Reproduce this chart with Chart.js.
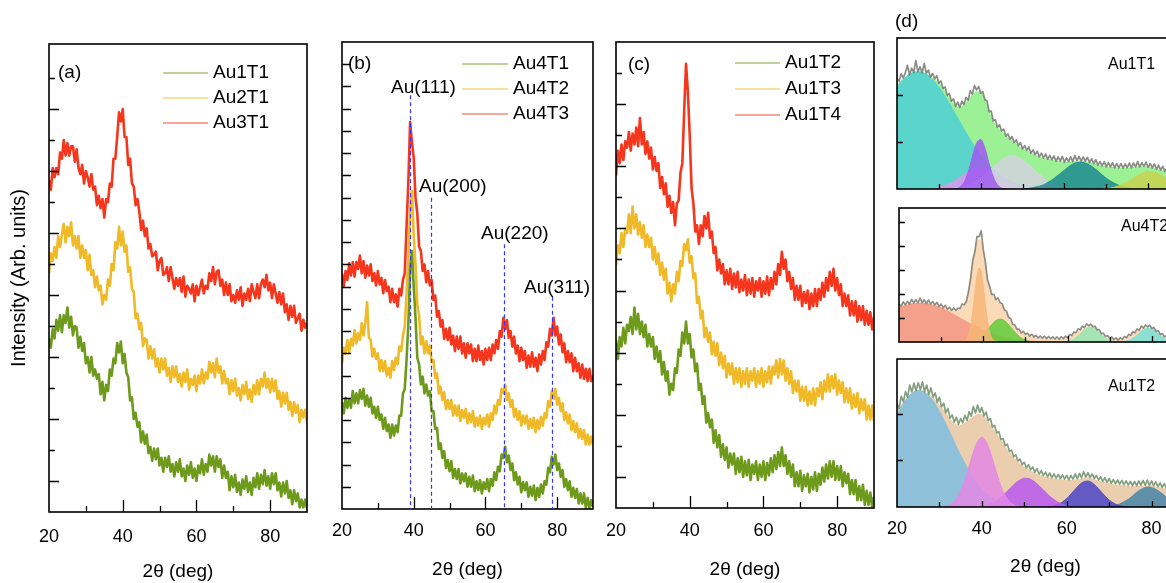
<!DOCTYPE html>
<html lang="en">
<head>
<meta charset="UTF-8">
<meta name="viewport" content="width=device-width, initial-scale=1.0">
<title>XRD patterns - Au samples</title>
<script src="https://cdn.jsdelivr.net/npm/chart.js"></script>
<style>
  html, body { margin: 0; padding: 0; background: #fff; }
  body { position: relative; width: 1166px; height: 583px; overflow: hidden; }
  canvas { position: absolute; }
</style>
</head>
<body>
<canvas id="panelA" width="313" height="583" style="left:0;top:0"></canvas>
<canvas id="panelB" width="284" height="583" style="left:312px;top:0"></canvas>
<canvas id="panelC" width="280" height="583" style="left:598px;top:0"></canvas>
<canvas id="panelD1" width="320" height="195" style="left:880px;top:0"></canvas>
<canvas id="panelD2" width="320" height="153" style="left:880px;top:195px"></canvas>
<canvas id="panelD3" width="320" height="233" style="left:880px;top:350px"></canvas>

<script>
    // ---- scan grid and axis labels ----
    const twoTheta = Array.from({ length: 141 }, (_, i) => 20 + i * 0.5);   // 20..90 deg, 0.5 deg step
    const xTickLabels = [20, 40, 60, 80];
    const peakNames = ['Au(111)', 'Au(200)', 'Au(220)', 'Au(311)'];
    const peakAngles = [39.1, 44.9, 65.2, 78.7];

    // ---- (a) ----
    const au1t1 = [5.6,5.3,5.9,5.6,6.2,5.85,6.35,5.8,6.35,6.1, 6.6,5.95,6.3,5.7,6.0,5.95,5.3,5.65,5.2,5.45,
        4.8,5.0,4.5,5.0,4.4,4.6,4.3,4.45,3.8,4.2, 3.6,4.1,3.9,4.6,4.4,4.95,4.8,5.45,5.15,5.5,
        4.8,5.1,4.5,4.35,3.6,3.7,3.0,3.2,2.75,2.9, 2.25,2.6,2.2,2.5,1.9,2.1,1.65,2.05,1.7,2.05,
        1.5,1.75,1.3,1.75,1.45,1.8,1.3,1.55,1.15,1.6, 1.3,1.7,1.15,1.4,1.0,1.5,1.2,1.6,1.1,1.4,
        1.0,1.5,1.25,1.7,1.2,1.55,1.3,1.85,1.5,1.8, 1.3,1.8,1.45,1.7,1.1,1.5,1.1,1.3,0.7,1.15,
        0.8,1.2,0.65,0.95,0.55,1.05,0.75,1.15,0.65,0.95, 0.55,1.1,0.8,1.25,0.75,1.2,0.9,1.35,0.85,1.15,
        0.75,1.25,0.9,1.25,0.7,0.95,0.5,0.95,0.6,1.0, 0.45,0.7,0.25,0.7,0.35,0.6,0.15,0.4,0.15,0.4, 0.1];
    const au2t1 = [7.7,8.35,8.1,8.55,8.2,8.9,8.55,8.95,9.3,8.7, 9.2,8.9,9.35,8.6,8.9,8.5,8.9,8.2,8.6,8.2,
        8.45,7.8,8.3,7.65,7.8,7.25,7.6,7.15,7.3,6.7, 7.0,6.85,7.5,7.3,8.0,7.8,8.7,8.5,9.2,8.6,
        9.05,8.4,8.6,7.75,7.9,7.2,7.1,6.25,6.4,5.9, 6.1,5.35,5.6,5.55,4.95,5.35,4.95,5.25,4.7,4.95,
        4.5,4.95,4.6,4.95,4.4,4.65,4.2,4.7,4.35,4.7, 4.2,4.45,4.05,4.5,4.2,4.6,3.95,4.3,4.1,4.4,
        3.9,4.4,4.15,4.6,4.15,4.5,4.3,4.85,4.5,4.8, 4.35,4.95,4.5,4.7,4.15,4.55,4.15,4.3,3.8,4.25,
        3.9,4.3,3.75,4.0,3.6,4.1,3.8,4.2,3.65,3.95, 3.55,4.1,3.8,4.25,3.8,4.3,4.05,4.5,4.0,4.3,
        3.85,4.3,3.9,4.25,3.65,3.9,3.4,3.85,3.5,3.85, 3.3,3.55,3.1,3.55,3.2,3.45,2.9,3.3,3.05,3.3, 2.9];
    const au3t1 = [10.7,10.4,11.1,10.8,11.1,10.9,11.6,11.4,12.0,11.5, 11.9,11.5,11.8,11.8,11.3,11.7,11.1,10.9,11.2,10.6,
        11.0,10.8,10.5,10.9,10.4,10.5,9.9,10.2,9.8,10.1, 9.5,10.1,10.0,10.6,10.5,11.4,11.4,12.1,12.9,12.6,
        13.0,12.1,12.1,11.2,11.4,10.6,10.5,9.9,10.1,9.7, 9.1,9.4,8.9,9.15,8.5,8.65,8.25,8.3,8.4,7.8,
        8.1,8.2,7.65,7.7,7.9,7.45,7.9,7.55,7.2,7.55, 7.3,7.55,7.1,7.6,6.95,7.3,7.2,7.05,7.35,6.8,
        7.3,7.0,7.25,7.5,7.05,7.3,7.2,7.7,7.45,7.9, 7.35,7.75,7.8,7.3,7.5,7.0,7.4,7.0,7.35,6.8,
        7.0,6.75,7.15,6.85,7.25,6.65,7.05,6.85,7.2,6.8, 7.35,7.1,6.9,7.35,6.9,7.35,7.5,7.25,7.65,7.15,
        7.4,6.9,7.35,7.05,6.75,7.1,6.7,7.05,6.45,6.7, 6.2,6.65,6.3,6.65,6.1,6.25,6.4,5.85,6.2,5.95, 6.1];

    // ---- (b) ----
    const au4t1 = [4.8,4.3,5.0,4.55,4.9,4.55,5.3,4.75,5.2,4.75, 5.35,4.95,5.4,4.65,5.1,4.6,5.0,4.3,4.6,4.1,
        4.6,4.0,4.25,3.6,4.1,3.5,3.8,3.2,3.8,3.3, 3.75,3.45,4.2,4.2,5.2,5.4,6.7,8.3,10.8,11.6,
        10.0,8.6,6.8,6.5,5.6,5.95,5.2,5.6,5.1,5.3, 4.4,4.4,3.6,3.65,2.7,2.95,2.3,2.6,1.85,2.2,
        1.7,2.15,1.4,1.8,1.35,1.8,1.15,1.6,1.25,1.6, 1.0,1.45,1.0,1.5,0.8,1.25,0.85,1.3,0.7,1.2,
        0.9,1.35,0.8,1.35,1.05,1.65,1.3,1.9,1.7,2.45, 2.3,2.8,2.1,2.4,1.75,2.05,1.3,1.65,1.1,1.45,
        0.75,1.2,0.85,1.2,0.55,1.0,0.6,1.05,0.4,0.95, 0.55,1.1,0.7,1.25,1.1,1.85,1.65,2.35,2.0,2.45,
        1.75,2.05,1.45,1.75,1.0,1.35,0.85,1.25,0.55,0.95, 0.5,0.9,0.25,0.7,0.25,0.7,0.05,0.5,0.05,0.4, 0.1];
    const au4t2 = [6.55,7.25,7.0,7.6,7.05,7.65,7.35,8.05,7.45,7.9, 7.6,8.35,7.8,8.4,9.3,7.7,7.6,6.85,7.2,6.75,
        7.0,6.2,6.7,6.2,6.65,6.0,6.35,5.9,6.65,6.25, 6.8,6.5,7.3,7.1,7.8,8.2,9.7,11.2,13.5,14.3,
        12.3,11.0,9.2,8.7,7.4,7.75,7.0,7.55,7.0,7.35, 6.6,6.7,5.9,6.1,5.2,5.5,4.9,5.25,4.5,4.9,
        4.5,4.9,4.2,4.65,4.2,4.65,3.95,4.45,4.1,4.5, 3.85,4.3,3.9,4.4,3.7,4.1,3.75,4.2,3.6,4.1,
        3.8,4.25,3.7,4.3,4.0,4.65,4.3,4.9,4.7,5.4, 5.2,5.6,4.9,5.2,4.6,4.9,4.15,4.5,4.0,4.4,
        3.75,4.2,3.85,4.2,3.6,4.05,3.65,4.1,3.45,4.0, 3.6,4.15,3.75,4.3,4.1,4.85,4.6,5.3,4.95,5.4,
        4.7,5.0,4.4,4.75,4.0,4.35,3.85,4.25,3.55,3.95, 3.45,3.85,3.2,3.6,3.15,3.55,2.9,3.35,2.9,3.25, 2.9];
    const au4t3 = [10.6,10.0,10.7,10.3,11.05,10.5,11.1,10.45,11.1,10.8, 11.4,10.6,11.15,10.4,10.95,10.5,11.0,10.25,10.6,10.05,
        10.7,10.1,10.4,9.7,10.3,9.8,10.0,9.3,9.9,9.3, 9.65,9.1,9.9,9.6,10.3,10.6,12.7,14.7,17.4,16.5,
        15.8,14.0,13.3,11.8,11.6,10.7,11.0,10.2,10.7,10.05, 10.3,9.4,9.6,8.65,8.9,8.2,8.5,7.65,8.1,7.6,
        8.15,7.4,7.8,7.1,7.75,7.2,7.75,7.0,7.45,6.8, 7.45,7.0,7.4,6.65,7.2,6.65,7.35,6.7,7.1,6.5,
        7.2,6.7,7.25,6.7,7.4,7.0,7.6,7.2,8.0,7.75, 8.6,8.1,8.5,7.7,8.0,7.3,7.75,7.0,7.35,6.65,
        7.25,6.7,7.1,6.35,6.9,6.4,7.05,6.4,6.8,6.2, 6.95,6.5,7.1,6.7,7.5,7.3,8.1,7.8,8.6,7.8,
        8.2,7.4,7.85,7.05,7.45,6.6,7.1,6.6,7.0,6.2, 6.8,6.2,6.55,5.9,6.5,5.85,6.3,5.75,6.3,5.75, 6.0];

    // ---- (c) ----
    const au1t2 = [5.4,4.8,5.5,5.2,5.8,5.3,5.9,5.7,6.15,5.6, 6.45,5.75,6.25,5.6,6.0,5.5,5.9,5.2,5.6,5.2,
        5.5,4.8,5.2,4.7,5.05,4.3,4.7,4.1,4.4,3.65, 4.0,3.8,4.5,4.35,5.1,4.9,5.65,5.3,6.0,5.3,
        5.6,4.85,5.1,4.4,4.65,3.8,4.0,3.35,3.6,2.75, 3.05,2.6,2.85,2.1,2.5,1.95,2.35,1.65,2.05,1.55,
        1.95,1.3,1.75,1.4,1.75,1.1,1.6,1.15,1.65,1.0, 1.5,1.05,1.55,0.9,1.4,1.1,1.5,0.9,1.4,1.0,
        1.5,0.9,1.45,1.05,1.6,1.15,1.7,1.25,1.8,1.35, 1.95,1.35,1.7,1.1,1.5,1.0,1.4,0.7,1.15,0.7,
        1.2,0.55,1.05,0.7,1.1,0.5,1.0,0.6,1.15,0.55, 1.1,0.75,1.3,0.85,1.4,0.95,1.5,1.0,1.5,0.9,
        1.35,0.9,1.35,0.7,1.15,0.8,1.1,0.45,0.9,0.45, 0.9,0.25,0.7,0.25,0.75,0.1,0.55,0.1,0.5,0.05, 0.35];
    const au1t3 = [7.8,8.45,8.2,8.85,8.4,9.0,8.85,9.45,8.85,9.7, 9.0,9.45,8.8,9.2,8.7,9.1,8.4,8.8,8.4,8.7,
        8.0,8.4,7.85,8.2,7.5,7.9,7.35,7.7,6.9,7.25, 6.65,7.2,6.9,7.6,7.3,7.95,7.8,8.5,8.3,8.65,
        7.9,8.1,7.4,7.55,6.6,6.8,6.1,6.35,5.5,5.8, 5.35,5.65,4.95,5.35,4.9,5.3,4.6,5.0,4.5,4.9,
        4.2,4.65,4.3,4.65,4.0,4.5,4.05,4.5,3.9,4.4, 4.0,4.5,3.9,4.4,4.1,4.5,3.9,4.4,4.0,4.5,
        3.9,4.4,4.05,4.55,4.0,4.55,4.3,4.75,4.2,4.8, 4.3,4.75,4.1,4.5,4.0,4.4,3.7,4.1,3.75,4.1,
        3.45,3.9,3.45,3.9,3.3,3.75,3.35,3.85,3.3,3.85, 3.6,4.05,3.5,4.1,3.75,4.3,3.75,4.25,3.85,4.3,
        3.65,4.1,3.7,4.05,3.4,3.85,3.4,3.85,3.2,3.65, 3.25,3.7,3.05,3.5,3.15,3.5,2.85,3.3,2.85,3.3, 2.8];
    const au1t4 = [10.7,11.5,11.1,11.7,11.2,11.8,11.6,12.1,11.5,12.05, 11.7,12.25,11.65,12.55,11.7,12.1,11.4,11.8,11.25,11.6,
        10.9,11.3,10.85,11.1,10.3,10.65,10.1,10.45,9.7,10.05, 9.5,9.85,9.1,9.8,9.9,10.8,11.1,12.8,14.3,13.4,
        12.0,10.3,9.8,8.9,9.1,8.5,9.1,8.75,9.4,9.0, 9.5,8.7,8.9,8.2,8.4,7.65,8.0,7.55,7.85,7.2,
        7.65,7.2,7.7,7.05,7.55,7.1,7.6,6.95,7.35,7.0, 7.5,6.85,7.35,6.9,7.4,6.8,7.3,7.0,7.4,6.8,
        7.3,6.9,7.45,6.85,7.4,7.05,7.6,7.2,7.85,7.5, 8.25,7.7,8.0,7.3,7.6,7.05,7.4,6.7,7.15,6.7,
        7.15,6.5,6.95,6.6,7.0,6.4,6.9,6.5,7.05,6.5, 7.05,6.7,7.25,6.8,7.4,7.0,7.6,7.15,7.7,7.0,
        7.4,6.85,7.2,6.5,6.9,6.5,6.85,6.2,6.65,6.2, 6.65,6.0,6.5,6.05,6.5,5.9,6.35,5.9,6.3,5.75, 6.15];

    // ---- (d) peak fits: measured scan (0.5 deg), cumulative fit and components (1 deg unless noted) ----
    const fitStartAu1T1 = [20, 28, 33, 33, 50, 69];      // cyan, pink, purple, gray, teal, olive
    const scanAu1T1 = [2.35,2.28,2.44,2.35,2.47,2.62,2.42,2.56,2.47,2.72, 2.48,2.59,2.46,2.66,2.45,2.52,2.37,2.45,2.33,2.40,
        2.24,2.29,2.13,2.16,1.98,2.02,1.86,1.91,1.75,1.84, 1.73,1.86,1.79,1.94,1.88,2.08,2.01,2.19,2.10,2.17,
        2.03,2.06,1.89,1.87,1.64,1.65,1.44,1.47,1.31,1.36, 1.23,1.27,1.12,1.17,1.05,1.11,0.98,1.04,0.92,0.98,
        0.85,0.92,0.82,0.89,0.76,0.83,0.73,0.80,0.68,0.76, 0.66,0.74,0.63,0.71,0.62,0.70,0.59,0.68,0.59,0.69,
        0.57,0.66,0.58,0.68,0.58,0.71,0.60,0.69,0.59,0.68, 0.59,0.67,0.56,0.64,0.54,0.62,0.50,0.58,0.49,0.58,
        0.47,0.56,0.47,0.56,0.45,0.54,0.45,0.54,0.44,0.53, 0.45,0.55,0.45,0.55,0.47,0.58,0.47,0.56,0.48,0.57,
        0.46,0.54,0.45,0.53,0.42,0.50,0.40,0.48,0.37,0.45, 0.36,0.43,0.33,0.41,0.32,0.39,0.29,0.37,0.28,0.35, 0.25];
    const envAu1T1 = [2.2,2.29,2.37,2.43,2.47,2.48,2.47,2.44,2.38,2.31, 2.25,2.13,1.99,1.86,1.76,1.73,1.78,1.88,2.0,2.06,
        2.04,1.89,1.64,1.43,1.31,1.22,1.12,1.04,0.98,0.91, 0.85,0.81,0.76,0.72,0.68,0.65,0.63,0.61,0.59,0.58,
        0.57,0.57,0.58,0.59,0.59,0.58,0.56,0.53,0.5,0.48, 0.47,0.46,0.45,0.44,0.44,0.44,0.45,0.46,0.47,0.47,
        0.46,0.44,0.42,0.39,0.37,0.35,0.33,0.31,0.29,0.27, 0.25];
    const cyanAu1T1 = [2.16,2.27,2.36,2.43,2.47,2.48,2.47,2.43,2.36,2.27,2.16,2.03,1.89,1.74,1.58,1.43,1.27,1.12,0.97,0.84,
        0.71,0.6,0.5,0.41,0.34,0.27,0.22,0.17,0.13,0.1,0.08,0.06,0.04,0.03,0.02,0.01,0];
    const pinkAu1T1 = [0,0.02,0.04,0.06,0.09,0.13,0.18,0.24,0.30,0.36,0.41,0.44,0.45,0.44,0.41,0.36,0.30,0.24,0.18,0.13,0.09,0.06,0.04,0.02,0];
    const purpleAu1T1 = [0,0.01,0.04,0.14,0.36,0.68,0.97,1.05,0.87,0.54,0.26,0.09,0.02,0];
    const grayAu1T1 = [0,0.02,0.035,0.055,0.085,0.12,0.17,0.24,0.31,0.39,0.47,0.55,0.62,0.67,0.70,0.70,0.67,0.62,0.55,0.47,
        0.39,0.31,0.24,0.17,0.12,0.08,0.06,0.03,0];
    const tealAu1T1 = [0,0.01,0.02,0.04,0.06,0.09,0.14,0.19,0.26,0.33,0.40,0.47,0.53,0.56,0.57,0.55,0.51,0.45,0.38,0.30,
        0.23,0.17,0.12,0.08,0.05,0.03,0];
    const oliveAu1T1 = [0,0.01,0.02,0.04,0.07,0.11,0.15,0.21,0.26,0.31,0.35,0.37,0.36,0.34,0.30,0.24,0.19,0.13,0.09,0.06,0.03,0.02];

    const fitStartAu4T2 = [20, 35, 36, 59, 72];          // salmon, orange (0.5 deg), green, mint, aqua
    const scanAu4T2 = [1.60,1.50,1.68,1.55,1.69,1.58,1.78,1.64,1.77,1.64, 1.83,1.65,1.76,1.61,1.76,1.59,1.69,1.55,1.65,1.49,
        1.58,1.43,1.53,1.37,1.45,1.32,1.42,1.32,1.42,1.40, 1.59,1.55,1.71,2.12,2.67,3.41,3.77,4.41,4.4,4.65,
        3.86,3.34,2.6,2.33,1.99,1.99,1.77,1.84,1.64,1.60, 1.35,1.29,1.03,0.98,0.73,0.71,0.53,0.54,0.38,0.44,
        0.32,0.37,0.25,0.32,0.21,0.28,0.17,0.25,0.16,0.24, 0.14,0.23,0.14,0.21,0.13,0.21,0.12,0.22,0.14,0.24,
        0.18,0.31,0.27,0.42,0.39,0.55,0.51,0.66,0.60,0.76, 0.68,0.75,0.64,0.66,0.51,0.52,0.35,0.37,0.23,0.27,
        0.15,0.21,0.10,0.17,0.08,0.18,0.11,0.23,0.18,0.32, 0.28,0.43,0.39,0.55,0.49,0.66,0.58,0.71,0.63,0.70,
        0.57,0.60,0.45,0.47,0.32,0.35,0.22,0.26,0.15,0.21, 0.11,0.17,0.08,0.15,0.07,0.14,0.06,0.13,0.05,0.12, 0.05];
    const envAu4T2 = [1.46,1.52,1.56,1.6,1.62,1.63,1.62,1.6,1.56,1.51, 1.45,1.39,1.33,1.29,1.3,1.45,1.6,2.65,3.76,4.29,
        3.83,2.58,1.96,1.75,1.61,1.33,1.0,0.71,0.5,0.36, 0.29,0.23,0.18,0.15,0.13,0.12,0.11,0.1,0.1,0.12,
        0.15,0.24,0.36,0.48,0.57,0.64,0.61,0.48,0.32,0.2, 0.12,0.07,0.05,0.08,0.15,0.25,0.36,0.46,0.54,0.6,
        0.54,0.42,0.29,0.19,0.12,0.08,0.05,0.04,0.03,0.02, 0.02];
    const salmonAu4T2 = [1.42,1.49,1.54,1.59,1.61,1.62,1.61,1.59,1.54,1.49,1.42,1.34,1.25,1.15,1.05,0.95,0.85,0.75,0.66,0.57,
        0.49,0.42,0.35,0.29,0.24,0.19,0.16,0.12,0.10,0.08,0.06,0.04,0.03,0.02,0.01,0];
    const orangeAu4T2 = [0.01,0.04,0.11,0.30,0.67,1.27,2.04,2.74,3.09,2.93,2.34,1.57,0.89,0.42,0.17,0.06,0.02,0];
    const greenAu4T2 = [0,0.03,0.08,0.17,0.32,0.52,0.73,0.90,0.96,0.90,0.73,0.52,0.32,0.17,0.08,0.03,0];
    const mintAu4T2 = [0,0.03,0.08,0.19,0.34,0.51,0.61,0.60,0.48,0.31,0.16,0.07,0.02,0];
    const aquaAu4T2 = [0,0.01,0.04,0.11,0.22,0.36,0.50,0.57,0.54,0.42,0.27,0.15,0.06,0.02,0];

    const fitStartAu1T2 = [20, 31, 40, 56, 70];          // light blue, magenta, violet, indigo, steel
    const scanAu1T2 = [2.23,2.12,2.38,2.26,2.48,2.36,2.62,2.47,2.66,2.50, 2.67,2.52,2.69,2.48,2.62,2.42,2.56,2.36,2.45,2.25,
        2.36,2.15,2.23,2.02,2.12,1.91,1.98,1.82,1.93,1.78, 1.90,1.81,1.97,1.86,2.05,1.95,2.16,2.02,2.19,2.03,
        2.14,1.96,2.04,1.86,1.90,1.72,1.75,1.59,1.62,1.45, 1.47,1.32,1.35,1.20,1.22,1.08,1.12,0.99,1.03,0.91,
        0.96,0.84,0.91,0.80,0.86,0.75,0.82,0.71,0.78,0.68, 0.75,0.65,0.73,0.63,0.71,0.62,0.70,0.61,0.69,0.60,
        0.68,0.59,0.68,0.60,0.71,0.61,0.72,0.63,0.76,0.64, 0.74,0.63,0.71,0.61,0.68,0.58,0.65,0.55,0.63,0.53,
        0.61,0.51,0.59,0.50,0.58,0.49,0.57,0.48,0.56,0.47, 0.55,0.46,0.55,0.46,0.56,0.47,0.57,0.47,0.58,0.47,
        0.56,0.46,0.54,0.44,0.52,0.42,0.50,0.40,0.48,0.38, 0.46,0.36,0.44,0.34,0.42,0.32,0.40,0.30,0.38,0.28, 0.36];
    const envAu1T2 = [2.05,2.18,2.3,2.4,2.47,2.5,2.49,2.45,2.38,2.29, 2.19,2.07,1.95,1.83,1.77,1.76,1.8,1.87,1.94,1.99,
        1.98,1.89,1.76,1.63,1.5,1.36,1.23,1.11,1.01,0.92, 0.85,0.8,0.75,0.71,0.67,0.64,0.62,0.6,0.59,0.58,
        0.57,0.57,0.58,0.59,0.61,0.62,0.6,0.57,0.54,0.52, 0.5,0.48,0.47,0.46,0.45,0.44,0.44,0.44,0.45,0.45,
        0.45,0.43,0.41,0.39,0.37,0.35,0.33,0.31,0.29,0.27, 0.25];
    const blueAu1T2 = [1.99,2.15,2.29,2.40,2.47,2.50,2.49,2.43,2.34,2.21,2.06,1.88,1.69,1.50,1.30,1.11,0.94,0.77,0.63,0.50,
        0.39,0.30,0.23,0.17,0.13,0.09,0.06,0.04,0.03,0.02,0.01,0];
    const magentaAu1T2 = [0,0.03,0.08,0.18,0.34,0.58,0.88,1.18,1.41,1.50,1.41,1.18,0.88,0.58,0.34,0.18,0.08,0.03,0];
    const violetAu1T2 = [0,0.04,0.07,0.11,0.17,0.25,0.34,0.43,0.52,0.58,0.62,0.61,0.57,0.50,0.41,0.32,0.23,0.16,0.10,0.06,0.03,0];
    const indigoAu1T2 = [0,0.03,0.06,0.11,0.18,0.28,0.38,0.48,0.54,0.56,0.52,0.44,0.34,0.24,0.15,0.09,0.04,0.02,0];
    const steelAu1T2 = [0,0.03,0.05,0.09,0.14,0.20,0.28,0.35,0.40,0.43,0.42,0.38,0.32,0.25,0.17,0.11,0.07,0.04,0.02,0.01,0];

    // ---- helpers ----
    Chart.defaults.font.family = "'Liberation Sans', Arial, Helvetica, sans-serif";
    Chart.defaults.color = '#000';

    const OLIVE = '#6e9a1c', AMBER = '#efb927', RED = '#f5361c';

    function rgba(hex, a) {
        const n = parseInt(hex.slice(1), 16);
        return `rgba(${n >> 16},${(n >> 8) & 255},${n & 255},${a})`;
    }
    function scan(values) {
        return values.map((y, i) => ({ x: twoTheta[i], y: y }));
    }
    function fromDeg(start, step, values) {
        return values.map((y, i) => ({ x: start + i * step, y: y }));
    }
    function trace(label, values, color) {
        return { label: label, data: scan(values), borderColor: color, borderWidth: 2.6, fill: false };
    }
    function scanTrace(values, color) {
        return { label: 'scan', data: scan(values), borderColor: color, borderWidth: 1.7, fill: false, order: 0 };
    }
    function peak(points, color, order) {
        return {
            label: 'fit', data: points, borderColor: color, borderWidth: 0.8,
            backgroundColor: rgba(color, 0.85), fill: 'origin', cubicInterpolationMode: 'monotone', order: order
        };
    }

    // inward tick marks and the frame box
    const frameTicks = {
        id: 'frameTicks',
        afterDatasetsDraw(chart, args, o) {
            const { ctx, chartArea: a, scales: { x, y } } = chart;
            ctx.save();
            ctx.strokeStyle = '#000';
            ctx.lineWidth = 1.3;
            ctx.beginPath();
            x.ticks.forEach(t => {
                if (t.value <= x.min || t.value >= x.max) return;
                const px = Math.round(x.getPixelForValue(t.value)) + 0.5;
                const len = t.value % 20 === 0 ? o.xMajor : o.xMinor;
                ctx.moveTo(px, a.bottom);
                ctx.lineTo(px, a.bottom - len);
            });
            y.ticks.forEach(t => {
                if (!Number.isInteger(t.value) || t.value <= 0 || t.value > o.yLast) return;
                const py = Math.round(y.getPixelForValue(t.value)) + 0.5;
                const len = t.value % 2 === 1 ? o.yOdd : o.yEven;
                ctx.moveTo(a.left, py);
                ctx.lineTo(a.left + len, py);
            });
            ctx.stroke();
            ctx.lineWidth = 1.6;
            ctx.strokeRect(a.left, a.top, a.right - a.left, a.bottom - a.top);
            ctx.restore();
        }
    };

    // dashed reference lines for the Au reflections
    const peakLines = {
        id: 'peakLines',
        afterDatasetsDraw(chart, args, o) {
            const { ctx, chartArea: a, scales: { x, y } } = chart;
            ctx.save();
            ctx.strokeStyle = '#3434ff';
            ctx.lineWidth = 1.2;
            ctx.setLineDash([4, 3]);
            peakAngles.forEach((ang, i) => {
                const px = Math.round(x.getPixelForValue(ang)) + 0.5;
                ctx.beginPath();
                ctx.moveTo(px, y.getPixelForValue(o.tops[i]));
                ctx.lineTo(px, a.bottom);
                ctx.stroke();
            });
            ctx.restore();
        }
    };

    // panel letters, sample names and the in-plot legend
    const overlay = {
        id: 'overlay',
        afterDraw(chart, args, o) {
            const ctx = chart.ctx;
            const fam = Chart.defaults.font.family;
            ctx.save();
            ctx.textBaseline = 'middle';
            ctx.textAlign = 'left';
            ctx.fillStyle = '#000';
            (o.texts || []).forEach(t => {
                ctx.font = `${t.size}px ${fam}`;
                ctx.fillText(t.text, t.x, t.y);
            });
            if (o.legend) {
                const L = o.legend;
                chart.data.datasets.forEach((ds, i) => {
                    const yy = L.rows[i];
                    ctx.globalAlpha = 0.6;
                    ctx.strokeStyle = ds.borderColor;
                    ctx.lineWidth = 1.6;
                    ctx.beginPath();
                    ctx.moveTo(L.x1, yy);
                    ctx.lineTo(L.x2, yy);
                    ctx.stroke();
                    ctx.globalAlpha = 1;
                    ctx.font = `${L.size}px ${fam}`;
                    ctx.fillText(ds.label, L.textX, yy);
                });
            }
            ctx.restore();
        }
    };

    function xrdChart(id, c) {
        return new Chart(document.getElementById(id), {
            type: 'line',
            data: { datasets: c.datasets },
            options: {
                responsive: false,
                animation: false,
                events: [],
                layout: { padding: c.padding },
                elements: { point: { radius: 0 }, line: { borderJoinStyle: 'round' } },
                scales: {
                    x: {
                        type: 'linear', min: 20, max: 90,
                        grid: { display: false }, border: { display: false },
                        ticks: {
                            display: c.xLabels, stepSize: 10, autoSkip: false, maxRotation: 0,
                            padding: c.tickPad || 0, font: { size: 18 },
                            callback: v => xTickLabels.includes(v) ? String(v) : ''
                        },
                        title: {
                            display: c.xLabels, text: '2θ (deg)', font: { size: 19 },
                            padding: { top: 0, bottom: c.titlePad || 0 }
                        },
                        afterFit: s => { s.height = c.xHeight; }
                    },
                    y: {
                        min: 0, max: c.yMax,
                        grid: { display: false }, border: { display: false },
                        ticks: { display: false, stepSize: 1 },
                        title: {
                            display: !!c.yTitle, text: c.yTitle || '', font: { size: 20 },
                            padding: { top: 7, bottom: 0 }
                        },
                        afterFit: s => { s.width = c.yWidth; }
                    }
                },
                plugins: {
                    legend: { display: false },
                    tooltip: { enabled: false },
                    frameTicks: c.ticks,
                    peakLines: c.peakLines || false,
                    overlay: c.overlay
                }
            },
            plugins: [frameTicks, peakLines, overlay]
        });
    }

    // (a)
    xrdChart('panelA', {
        datasets: [trace('Au1T1', au1t1, OLIVE), trace('Au2T1', au2t1, AMBER), trace('Au3T1', au3t1, RED)],
        padding: { top: 44, right: 0, left: 0, bottom: 0 },
        yWidth: 49, xHeight: 71, yMax: 15.1, xLabels: true, tickPad: 6, titlePad: 0,
        yTitle: 'Intensity (Arb. units)',
        ticks: { xMajor: 12, xMinor: 6, yOdd: 10, yEven: 6, yLast: 14 },
        overlay: {
            texts: [{ text: '(a)', x: 58, y: 73, size: 19 }],
            legend: { x1: 163, x2: 208, textX: 213, rows: [73, 98, 123], size: 19 }
        }
    });

    // (b)
    xrdChart('panelB', {
        datasets: [trace('Au4T1', au4t1, OLIVE), trace('Au4T2', au4t2, AMBER), trace('Au4T3', au4t3, RED)],
        padding: { top: 42, right: 0, left: 0, bottom: 0 },
        yWidth: 30, xHeight: 74, yMax: 21, xLabels: true, tickPad: 3, titlePad: 2,
        ticks: { xMajor: 12, xMinor: 6, yOdd: 9, yEven: 9, yLast: 20 },
        peakLines: { tops: [18.6, 14.0, 11.9, 9.55] },
        overlay: {
            texts: [
                { text: '(b)', x: 36, y: 64, size: 19 },
                { text: peakNames[0], x: 79, y: 88, size: 19 },
                { text: peakNames[1], x: 107, y: 187, size: 19 },
                { text: peakNames[2], x: 169, y: 234, size: 19 },
                { text: peakNames[3], x: 212, y: 288, size: 19 }
            ],
            legend: { x1: 150, x2: 196, textX: 201, rows: [64, 89, 114], size: 19 }
        }
    });

    // (c)
    xrdChart('panelC', {
        datasets: [trace('Au1T2', au1t2, OLIVE), trace('Au1T3', au1t3, AMBER), trace('Au1T4', au1t4, RED)],
        padding: { top: 42, right: 0, left: 0, bottom: 0 },
        yWidth: 18, xHeight: 75, yMax: 15, xLabels: true, tickPad: 4, titlePad: 2,
        ticks: { xMajor: 12, xMinor: 6, yOdd: 10, yEven: 6, yLast: 14 },
        overlay: {
            texts: [{ text: '(c)', x: 30, y: 65, size: 19 }],
            legend: { x1: 137, x2: 182, textX: 187, rows: [63, 89, 115], size: 19 }
        }
    });

    // (d) top: Au1T1
    xrdChart('panelD1', {
        datasets: [
            scanTrace(scanAu1T1, 'rgba(115,120,112,0.85)'),
            peak(fromDeg(fitStartAu1T1[2], 1, purpleAu1T1), '#a05af0', 3),
            peak(fromDeg(fitStartAu1T1[5], 1, oliveAu1T1), '#c8d450', 4),
            peak(fromDeg(fitStartAu1T1[4], 1, tealAu1T1), '#1e8c91', 5),
            peak(fromDeg(fitStartAu1T1[3], 1, grayAu1T1), '#d4d4de', 6),
            peak(fromDeg(fitStartAu1T1[1], 1, pinkAu1T1), '#de96f0', 7),
            peak(fromDeg(fitStartAu1T1[0], 1, cyanAu1T1), '#50d0d6', 8),
            peak(fromDeg(20, 1, envAu1T1), '#8cee82', 10)
        ],
        padding: { top: 38, right: 10, left: 0, bottom: 0 },
        yWidth: 17, xHeight: 6, yMax: 3.2, xLabels: false,
        ticks: { xMajor: 6, xMinor: 5, yOdd: 6, yEven: 6, yLast: 3 },
        overlay: {
            texts: [{ text: '(d)', x: 15, y: 22, size: 19 }, { text: 'Au1T1', x: 228, y: 65, size: 16 }]
        }
    });

    // (d) middle: Au4T2
    xrdChart('panelD2', {
        datasets: [
            scanTrace(scanAu4T2, 'rgba(125,122,110,0.85)'),
            peak(fromDeg(fitStartAu4T2[1], 0.5, orangeAu4T2), '#f8b678', 3),
            peak(fromDeg(fitStartAu4T2[2], 1, greenAu4T2), '#64cd3c', 4),
            peak(fromDeg(fitStartAu4T2[3], 1, mintAu4T2), '#96e8b4', 5),
            peak(fromDeg(fitStartAu4T2[4], 1, aquaAu4T2), '#78e2d6', 6),
            peak(fromDeg(fitStartAu4T2[0], 1, salmonAu4T2), '#f49682', 8),
            peak(fromDeg(20, 1, envAu4T2), '#fad4aa', 10)
        ],
        padding: { top: 13, right: 6, left: 0, bottom: 0 },
        yWidth: 19, xHeight: 6, yMax: 5.6, xLabels: false,
        ticks: { xMajor: 6, xMinor: 5, yOdd: 6, yEven: 6, yLast: 5 },
        overlay: { texts: [{ text: 'Au4T2', x: 241, y: 32, size: 16 }] }
    });

    // (d) bottom: Au1T2
    xrdChart('panelD3', {
        datasets: [
            scanTrace(scanAu1T2, 'rgba(100,135,95,0.8)'),
            peak(fromDeg(fitStartAu1T2[1], 1, magentaAu1T2), '#e488e6', 3),
            peak(fromDeg(fitStartAu1T2[2], 1, violetAu1T2), '#b85af0', 4),
            peak(fromDeg(fitStartAu1T2[3], 1, indigoAu1T2), '#4c46c8', 5),
            peak(fromDeg(fitStartAu1T2[4], 1, steelAu1T2), '#4686a8', 6),
            peak(fromDeg(fitStartAu1T2[0], 1, blueAu1T2), '#7ec0e2', 8),
            peak(fromDeg(20, 1, envAu1T2), '#e8c6a0', 10)
        ],
        padding: { top: 9, right: 6, left: 0, bottom: 0 },
        yWidth: 17, xHeight: 76, yMax: 3.18, xLabels: true, tickPad: 3, titlePad: 5,
        ticks: { xMajor: 6, xMinor: 5, yOdd: 6, yEven: 6, yLast: 3 },
        overlay: { texts: [{ text: 'Au1T2', x: 228, y: 37, size: 16 }] }
    });
</script>
</body>
</html>
